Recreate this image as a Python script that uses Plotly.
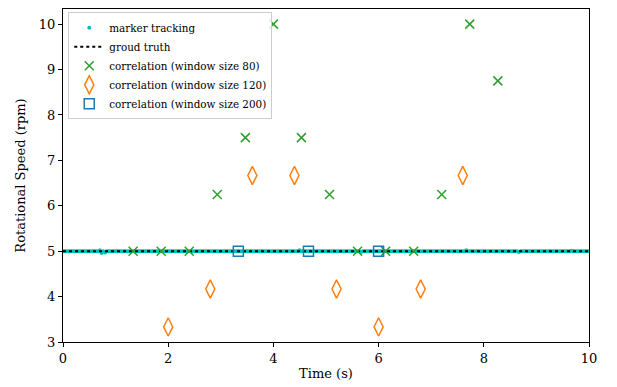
import numpy as np
import plotly.graph_objects as go

# marker tracking: dense samples, nearly all at 5 rpm
track_t = list(np.round(np.linspace(0, 10, 301), 4))
track_v = [5.0] * 301
track_dev = {21: 5.02, 22: 4.96, 24: 4.97, 135: 5.02, 170: 4.98, 230: 5.02, 260: 4.98, 290: 5.01}
for i, v in track_dev.items():
    track_v[i] = v

truth_t = [0, 10]
truth_v = [5, 5]

w80_t = [1.333, 1.867, 2.400, 2.933, 3.467, 4.000, 4.533, 5.067, 5.600, 6.133, 6.667, 7.200, 7.733, 8.267]
w80_v = [5, 5, 5, 6.25, 7.5, 10, 7.5, 6.25, 5, 5, 5, 6.25, 10, 8.75]

w120_t = [2.0, 2.8, 3.6, 4.4, 5.2, 6.0, 6.8, 7.6]
w120_v = [3.333, 4.167, 6.667, 6.667, 4.167, 3.333, 4.167, 6.667]

w200_t = [3.333, 4.667, 6.0]
w200_v = [5, 5, 5]

FONT = "DejaVu Serif"

fig = go.Figure()
fig.add_trace(go.Scatter(x=track_t, y=track_v, mode="markers", name="marker tracking",
                         marker=dict(color="#00BFBF", size=4)))
fig.add_trace(go.Scatter(x=truth_t, y=truth_v, mode="lines", name="groud truth",
                         line=dict(color="black", dash="dot", width=2)))
fig.add_trace(go.Scatter(x=w80_t, y=w80_v, mode="markers", name="correlation (window size 80)",
                         marker=dict(symbol="x-thin-open", size=9, color="#2ca02c",
                                     line=dict(color="#2ca02c", width=1.5))))
fig.add_trace(go.Scatter(x=w120_t, y=w120_v, mode="markers", name="correlation (window size 120)",
                         marker=dict(symbol="diamond-tall-open", size=13, color="#ff7f0e",
                                     line=dict(color="#ff7f0e", width=1.5))))
fig.add_trace(go.Scatter(x=w200_t, y=w200_v, mode="markers", name="correlation (window size 200)",
                         marker=dict(symbol="square-open", size=10, color="#1f77b4",
                                     line=dict(color="#1f77b4", width=1.5))))

axis_common = dict(showline=True, linecolor="black", linewidth=1, mirror=True,
                   ticks="outside", ticklen=4, tickcolor="black", showgrid=False,
                   zeroline=False, tickfont=dict(family=FONT, size=13, color="black"))

fig.update_layout(
    width=617, height=387,
    margin=dict(l=63, r=28, t=8, b=44),
    plot_bgcolor="white", paper_bgcolor="white",
    font=dict(family=FONT, color="black"),
    xaxis=dict(range=[0, 10], tickvals=[0, 2, 4, 6, 8, 10],
               title=dict(text="Time (s)", font=dict(family=FONT, size=13), standoff=4),
               **axis_common),
    yaxis=dict(range=[3.0, 10.333], tickvals=[3, 4, 5, 6, 7, 8, 9, 10],
               title=dict(text="Rotational Speed (rpm)", font=dict(family=FONT, size=13), standoff=10),
               **axis_common),
    legend=dict(x=0.01, y=0.99, xanchor="left", yanchor="top",
                bgcolor="rgba(255,255,255,0.85)", bordercolor="#cccccc", borderwidth=1,
                font=dict(family=FONT, size=10.4),
                tracegroupgap=0, itemwidth=30),
    showlegend=True,
)

fig.write_html("out.html")
